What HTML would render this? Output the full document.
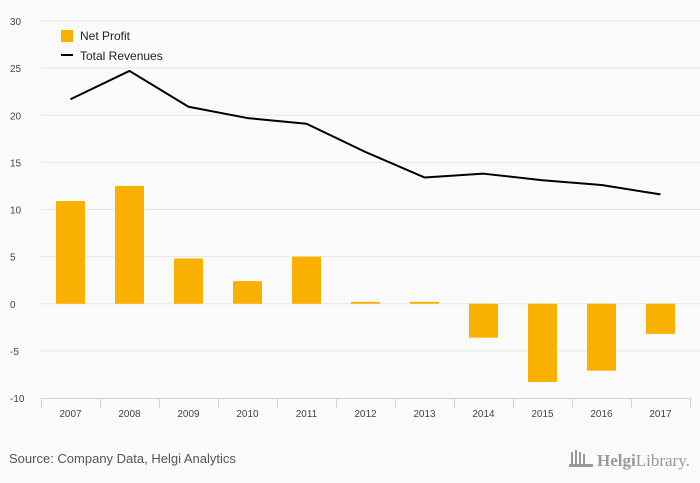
<!DOCTYPE html>
<html><head><meta charset="utf-8"><style>
html,body{margin:0;padding:0;background:#fafafa;}
svg{display:block;font-family:"Liberation Sans",sans-serif;}
</style></head><body>
<svg id="chart" width="700" height="483" viewBox="0 0 700 483">
<rect width="700" height="483" fill="#fafafa"/>
<g id="grid"></g><g id="bars"></g><g id="line"></g><g id="xaxis"></g>
<g>
<rect x="61" y="30" width="12" height="12" fill="#f9b000"/>
<text x="80" y="40" font-size="12" fill="#222">Net Profit</text>
<line x1="61" y1="55" x2="73" y2="55" stroke="#000" stroke-width="2"/>
<text x="80" y="60" font-size="12" fill="#222">Total Revenues</text>
</g>
<text x="9" y="463" font-size="13" fill="#555">Source: Company Data, Helgi Analytics</text>
<g>
<g fill="#999"><rect x="571" y="452" width="2" height="14"/><rect x="575" y="450" width="2" height="16"/><rect x="579" y="452" width="2" height="14"/><rect x="583" y="454" width="2" height="12"/><rect x="569" y="464" width="24" height="3"/></g>
<text x="597" y="466" font-size="17" fill="#999" font-family="Liberation Serif,serif"><tspan font-weight="bold">Helgi</tspan>Library.</text>
</g>
</svg>
<script>
const categories=["2007","2008","2009","2010","2011","2012","2013","2014","2015","2016","2017"];
const netProfit=[10.9,12.5,4.8,2.4,5.0,0.2,0.2,-3.6,-8.3,-7.1,-3.2];
const totalRevenues=[21.7,24.7,20.9,19.7,19.1,16.1,13.4,13.8,13.1,12.6,11.6];
const yTicks=[30,25,20,15,10,5,0,-5,-10];
const NS="http://www.w3.org/2000/svg";
const X0=41,X1=690,Ytop=21,Ybot=398,ymin=-10,ymax=30;
const bw=(X1-X0)/categories.length;
const xs=i=>X0+bw*(i+0.5);
const ys=v=>Ybot-(v-ymin)/(ymax-ymin)*(Ybot-Ytop);
function mk(t,a,p){const e=document.createElementNS(NS,t);for(const k in a)e.setAttribute(k,a[k]);p.appendChild(e);return e;}
const grid=document.getElementById('grid');
yTicks.forEach(v=>{
  if(v!==ymin){const l=mk('line',{x1:X0,x2:700,y1:ys(v),y2:ys(v),stroke:'#e6e6e6','stroke-width':1},grid);
  
  }
  const t=mk('text',{x:10,y:ys(v)+4,'font-size':10,fill:'#444'},grid);t.textContent=v;
  
  
});
const bars=document.getElementById('bars');
netProfit.forEach((v,i)=>{
  const y0=ys(Math.max(v,0)),y1=ys(Math.min(v,0));
  const r=mk('rect',{x:xs(i)-14.5,y:y0,width:29,height:Math.max(y1-y0,1),fill:'#f9b000'},bars);
  
  
});
const pl=mk('polyline',{points:totalRevenues.map((v,i)=>xs(i)+','+ys(v)).join(' '),fill:'none',stroke:'#000','stroke-width':2,'stroke-linejoin':'round'},document.getElementById('line'));


const xa=document.getElementById('xaxis');
const al=mk('line',{x1:X0,x2:X1,y1:Ybot+0.5,y2:Ybot+0.5,stroke:'#c8d4e6','stroke-width':1},xa);


for(let i=0;i<=categories.length;i++){
  const x=Math.round(X0+bw*i)+0.5;
  const tk=mk('line',{x1:x,x2:x,y1:Ybot,y2:Ybot+10,stroke:'#c8d4e6','stroke-width':1},xa);
  
  
}
categories.forEach((c,i)=>{
  const t=mk('text',{x:xs(i),y:Ybot+19,'font-size':10,fill:'#444','text-anchor':'middle'},xa);t.textContent=c;
  
  
});
</script>
</body></html>
